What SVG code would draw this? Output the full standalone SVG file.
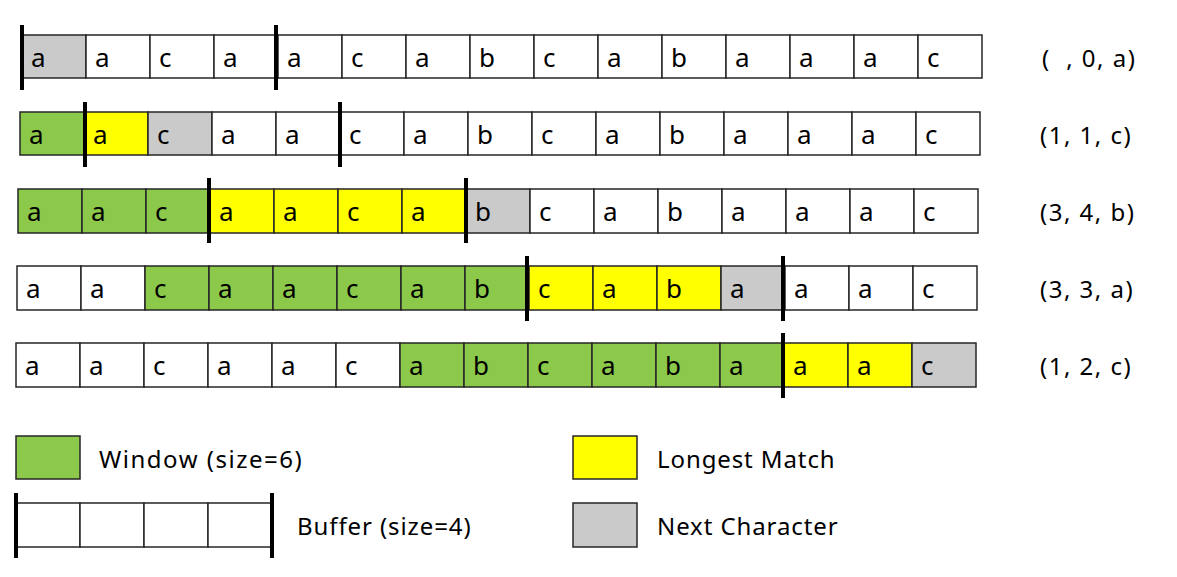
<svg xmlns="http://www.w3.org/2000/svg" width="1177" height="577" viewBox="0 0 1177 577">
<style>
.c{stroke:#262626;stroke-width:1.5;fill:#fff}
.g{fill:#8CC84A}
.y{fill:#FFFF00}
.s{fill:#CACACA}
.bar{stroke:#000;stroke-width:4;fill:none}
.t{font-family:"Noto Sans","Open Sans",sans-serif;font-size:26px;fill:#000}
.l{font-family:"Noto Sans","Open Sans",sans-serif;font-size:24px;letter-spacing:0.9px;fill:#000;white-space:pre}
.tp{letter-spacing:1.5px}
</style>
<rect width="1177" height="577" fill="#fff"/>
<!-- Row 1 -->
<g id="row1">
<rect class="c s" x="22" y="35" width="64" height="43"/>
<rect class="c" x="86" y="35" width="64" height="43"/>
<rect class="c" x="150" y="35" width="64" height="43"/>
<rect class="c" x="214" y="35" width="64" height="43"/>
<rect class="c" x="278" y="35" width="64" height="43"/>
<rect class="c" x="342" y="35" width="64" height="43"/>
<rect class="c" x="406" y="35" width="64" height="43"/>
<rect class="c" x="470" y="35" width="64" height="43"/>
<rect class="c" x="534" y="35" width="64" height="43"/>
<rect class="c" x="598" y="35" width="64" height="43"/>
<rect class="c" x="662" y="35" width="64" height="43"/>
<rect class="c" x="726" y="35" width="64" height="43"/>
<rect class="c" x="790" y="35" width="64" height="43"/>
<rect class="c" x="854" y="35" width="64" height="43"/>
<rect class="c" x="918" y="35" width="64" height="43"/>
<text class="t" y="67"><tspan x="31">a</tspan><tspan x="95">a</tspan><tspan x="159">c</tspan><tspan x="223">a</tspan><tspan x="287">a</tspan><tspan x="351">c</tspan><tspan x="415">a</tspan><tspan x="479">b</tspan><tspan x="543">c</tspan><tspan x="607">a</tspan><tspan x="671">b</tspan><tspan x="735">a</tspan><tspan x="799">a</tspan><tspan x="863">a</tspan><tspan x="927">c</tspan></text>
<line class="bar" x1="22" y1="25" x2="22" y2="90"/>
<line class="bar" x1="276" y1="25" x2="276" y2="90"/>
<text class="l tp" x="1042" y="67">(  , 0, a)</text>
</g>
<!-- Row 2 -->
<g id="row2">
<rect class="c g" x="20" y="112" width="64" height="43"/>
<rect class="c y" x="84" y="112" width="64" height="43"/>
<rect class="c s" x="148" y="112" width="64" height="43"/>
<rect class="c" x="212" y="112" width="64" height="43"/>
<rect class="c" x="276" y="112" width="64" height="43"/>
<rect class="c" x="340" y="112" width="64" height="43"/>
<rect class="c" x="404" y="112" width="64" height="43"/>
<rect class="c" x="468" y="112" width="64" height="43"/>
<rect class="c" x="532" y="112" width="64" height="43"/>
<rect class="c" x="596" y="112" width="64" height="43"/>
<rect class="c" x="660" y="112" width="64" height="43"/>
<rect class="c" x="724" y="112" width="64" height="43"/>
<rect class="c" x="788" y="112" width="64" height="43"/>
<rect class="c" x="852" y="112" width="64" height="43"/>
<rect class="c" x="916" y="112" width="64" height="43"/>
<text class="t" y="144"><tspan x="29">a</tspan><tspan x="93">a</tspan><tspan x="157">c</tspan><tspan x="221">a</tspan><tspan x="285">a</tspan><tspan x="349">c</tspan><tspan x="413">a</tspan><tspan x="477">b</tspan><tspan x="541">c</tspan><tspan x="605">a</tspan><tspan x="669">b</tspan><tspan x="733">a</tspan><tspan x="797">a</tspan><tspan x="861">a</tspan><tspan x="925">c</tspan></text>
<line class="bar" x1="85" y1="102" x2="85" y2="167"/>
<line class="bar" x1="340" y1="102" x2="340" y2="167"/>
<text class="l tp" x="1040" y="144">(1, 1, c)</text>
</g>
<!-- Row 3 -->
<g id="row3">
<rect class="c g" x="18" y="189" width="64" height="44"/>
<rect class="c g" x="82" y="189" width="64" height="44"/>
<rect class="c g" x="146" y="189" width="64" height="44"/>
<rect class="c y" x="210" y="189" width="64" height="44"/>
<rect class="c y" x="274" y="189" width="64" height="44"/>
<rect class="c y" x="338" y="189" width="64" height="44"/>
<rect class="c y" x="402" y="189" width="64" height="44"/>
<rect class="c s" x="466" y="189" width="64" height="44"/>
<rect class="c" x="530" y="189" width="64" height="44"/>
<rect class="c" x="594" y="189" width="64" height="44"/>
<rect class="c" x="658" y="189" width="64" height="44"/>
<rect class="c" x="722" y="189" width="64" height="44"/>
<rect class="c" x="786" y="189" width="64" height="44"/>
<rect class="c" x="850" y="189" width="64" height="44"/>
<rect class="c" x="914" y="189" width="64" height="44"/>
<text class="t" y="221"><tspan x="27">a</tspan><tspan x="91">a</tspan><tspan x="155">c</tspan><tspan x="219">a</tspan><tspan x="283">a</tspan><tspan x="347">c</tspan><tspan x="411">a</tspan><tspan x="475">b</tspan><tspan x="539">c</tspan><tspan x="603">a</tspan><tspan x="667">b</tspan><tspan x="731">a</tspan><tspan x="795">a</tspan><tspan x="859">a</tspan><tspan x="923">c</tspan></text>
<line class="bar" x1="209" y1="178" x2="209" y2="243"/>
<line class="bar" x1="466" y1="178" x2="466" y2="243"/>
<text class="l tp" x="1040" y="221">(3, 4, b)</text>
</g>
<!-- Row 4 -->
<g id="row4">
<rect class="c" x="17" y="266" width="64" height="44"/>
<rect class="c" x="81" y="266" width="64" height="44"/>
<rect class="c g" x="145" y="266" width="64" height="44"/>
<rect class="c g" x="209" y="266" width="64" height="44"/>
<rect class="c g" x="273" y="266" width="64" height="44"/>
<rect class="c g" x="337" y="266" width="64" height="44"/>
<rect class="c g" x="401" y="266" width="64" height="44"/>
<rect class="c g" x="465" y="266" width="64" height="44"/>
<rect class="c y" x="529" y="266" width="64" height="44"/>
<rect class="c y" x="593" y="266" width="64" height="44"/>
<rect class="c y" x="657" y="266" width="64" height="44"/>
<rect class="c s" x="721" y="266" width="64" height="44"/>
<rect class="c" x="785" y="266" width="64" height="44"/>
<rect class="c" x="849" y="266" width="64" height="44"/>
<rect class="c" x="913" y="266" width="64" height="44"/>
<text class="t" y="298"><tspan x="26">a</tspan><tspan x="90">a</tspan><tspan x="154">c</tspan><tspan x="218">a</tspan><tspan x="282">a</tspan><tspan x="346">c</tspan><tspan x="410">a</tspan><tspan x="474">b</tspan><tspan x="538">c</tspan><tspan x="602">a</tspan><tspan x="666">b</tspan><tspan x="730">a</tspan><tspan x="794">a</tspan><tspan x="858">a</tspan><tspan x="922">c</tspan></text>
<line class="bar" x1="527" y1="256" x2="527" y2="321"/>
<line class="bar" x1="783" y1="256" x2="783" y2="321"/>
<text class="l tp" x="1040" y="298">(3, 3, a)</text>
</g>
<!-- Row 5 -->
<g id="row5">
<rect class="c" x="16" y="343" width="64" height="44"/>
<rect class="c" x="80" y="343" width="64" height="44"/>
<rect class="c" x="144" y="343" width="64" height="44"/>
<rect class="c" x="208" y="343" width="64" height="44"/>
<rect class="c" x="272" y="343" width="64" height="44"/>
<rect class="c" x="336" y="343" width="64" height="44"/>
<rect class="c g" x="400" y="343" width="64" height="44"/>
<rect class="c g" x="464" y="343" width="64" height="44"/>
<rect class="c g" x="528" y="343" width="64" height="44"/>
<rect class="c g" x="592" y="343" width="64" height="44"/>
<rect class="c g" x="656" y="343" width="64" height="44"/>
<rect class="c g" x="720" y="343" width="64" height="44"/>
<rect class="c y" x="784" y="343" width="64" height="44"/>
<rect class="c y" x="848" y="343" width="64" height="44"/>
<rect class="c s" x="912" y="343" width="64" height="44"/>
<text class="t" y="375"><tspan x="25">a</tspan><tspan x="89">a</tspan><tspan x="153">c</tspan><tspan x="217">a</tspan><tspan x="281">a</tspan><tspan x="345">c</tspan><tspan x="409">a</tspan><tspan x="473">b</tspan><tspan x="537">c</tspan><tspan x="601">a</tspan><tspan x="665">b</tspan><tspan x="729">a</tspan><tspan x="793">a</tspan><tspan x="857">a</tspan><tspan x="921">c</tspan></text>
<line class="bar" x1="783" y1="333" x2="783" y2="398"/>
<text class="l tp" x="1040" y="375">(1, 2, c)</text>
</g>
<!-- Legend -->
<g id="legend-window">
<rect class="c g" x="16" y="436" width="64" height="43"/>
<text class="l" x="99" y="468" style="letter-spacing:1.5px">Window (size=6)</text>
</g>
<g id="legend-buffer">
<rect class="c" x="16" y="503" width="64" height="44"/>
<rect class="c" x="80" y="503" width="64" height="44"/>
<rect class="c" x="144" y="503" width="64" height="44"/>
<rect class="c" x="208" y="503" width="64" height="44"/>
<line class="bar" x1="16" y1="493" x2="16" y2="558"/>
<line class="bar" x1="272" y1="493" x2="272" y2="558"/>
<text class="l" x="297" y="535">Buffer (size=4)</text>
</g>
<g id="legend-match">
<rect class="c y" x="573" y="436" width="64" height="43"/>
<text class="l" x="657" y="468">Longest Match</text>
</g>
<g id="legend-next">
<rect class="c s" x="573" y="503" width="64" height="44"/>
<text class="l" x="657" y="535">Next Character</text>
</g>
</svg>
